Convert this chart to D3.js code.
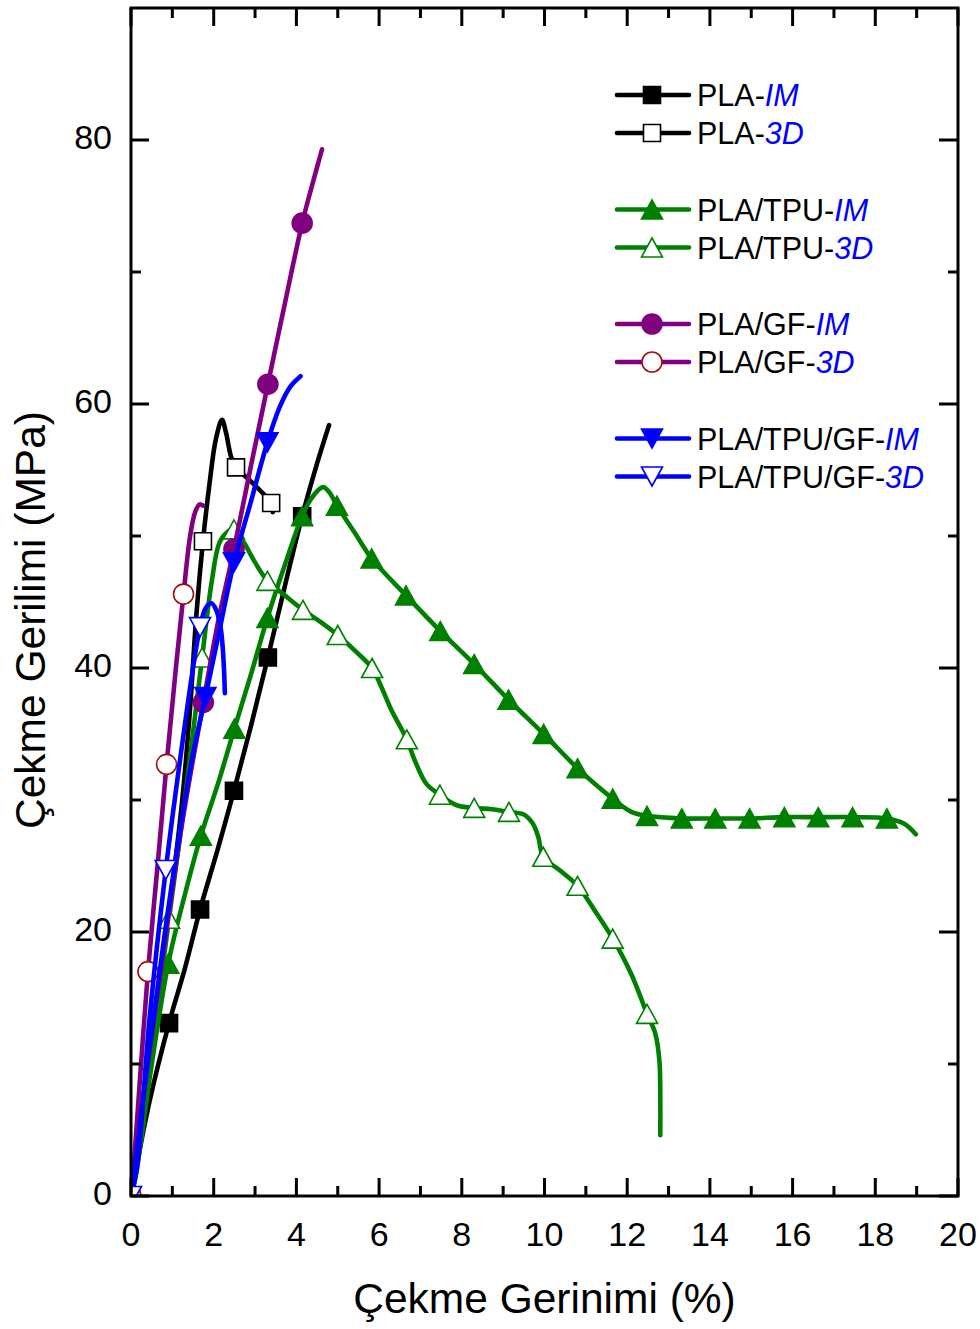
<!DOCTYPE html>
<html><head><meta charset="utf-8">
<script src="https://cdn.jsdelivr.net/npm/d3@7"></script>
<style>body{margin:0;background:#fff}svg text{font-family:"Liberation Sans",Arial,sans-serif}</style>
</head><body><svg id="c" width="980" height="1329"></svg>
<script>
// ---------- DATA ----------
const xTickValues = [0,2,4,6,8,10,12,14,16,18,20];
const yTickValues = [0,20,40,60,80];
const xTitle = "Çekme Gerinimi (%)";
const yTitle = "Çekme Gerilimi (MPa)";

const legendBase   = ["PLA-","PLA-","PLA/TPU-","PLA/TPU-","PLA/GF-","PLA/GF-","PLA/TPU/GF-","PLA/TPU/GF-"];
const legendSuffix = ["IM","3D","IM","3D","IM","3D","IM","3D"];

const plaIM = [[0,0],[0.45,7.2],[0.92,13.1],[1.3,17.2],[1.67,21.7],[2.1,26.3],[2.49,30.7],[2.9,35.6],[3.31,40.8],[3.72,46.2],[4.14,51.5],[4.5,55.5],[4.79,58.4]];
const plaIMMarks = [[0.92,13.1],[1.67,21.7],[2.49,30.7],[3.31,40.8],[4.14,51.5]];

const pla3D = [[0,0],[0.2,4.5],[0.45,10.5],[0.76,17.7],[1.0,23.5],[1.24,30],[1.43,37],[1.58,44],[1.74,49.6],[1.9,54],[2.05,57.3],[2.2,58.8],[2.3,57.8],[2.42,56],[2.54,55.2],[2.88,54.2],[3.2,53.2],[3.39,52.5],[3.43,51.8]];
const pla3DMarks = [[0,0],[1.74,49.6],[2.54,55.2],[3.39,52.5]];

const tpuIM = [[0,0],[0.22,3.7],[0.45,8.9],[0.9,17.6],[1.3,22.8],[1.69,27.3],[2.1,31.2],[2.5,35.4],[2.9,39.5],[3.3,43.8],[3.72,47.8],[4.14,51.5],[4.35,52.8],[4.64,53.7],[4.8,53.3],[4.98,52.3],[5.4,50.3],[5.82,48.3],[6.65,45.5],[7.48,42.8],[8.3,40.3],[9.13,37.6],[9.98,35],[10.8,32.4],[11.3,31],[11.65,30.1],[12.1,29.1],[12.48,28.8],[13.32,28.6],[14.13,28.6],[14.96,28.6],[15.8,28.7],[16.62,28.7],[17.45,28.7],[18.28,28.6],[18.7,28.2],[18.98,27.4]];
const tpuIMMarks = [[0.9,17.6],[1.69,27.3],[2.5,35.4],[3.3,43.8],[4.14,51.5],[4.98,52.3],[5.82,48.3],[6.65,45.5],[7.48,42.8],[8.3,40.3],[9.13,37.6],[9.98,35],[10.8,32.4],[11.65,30.1],[12.48,28.8],[13.32,28.6],[14.13,28.6],[14.96,28.6],[15.8,28.7],[16.62,28.7],[17.45,28.7],[18.28,28.6]];

const tpu3D = [[0,0],[0.14,2],[0.5,11],[0.92,21],[1.3,30],[1.72,40.8],[1.95,46.5],[2.14,49.5],[2.33,50.3],[2.49,50.5],[2.73,49.5],[3.0,48],[3.3,46.6],[3.72,45.5],[4.16,44.4],[4.58,43.5],[5.0,42.5],[5.42,41.3],[5.83,40.0],[6.05,38.6],[6.3,36.8],[6.67,34.6],[6.85,33.1],[7.15,31.2],[7.47,30.4],[7.88,29.6],[8.3,29.4],[8.72,29.3],[9.14,29.1],[9.5,28.9],[9.72,28.2],[9.85,27.2],[9.97,25.7],[10.4,24.6],[10.8,23.5],[11.22,21.6],[11.65,19.5],[12.1,16.8],[12.48,13.8],[12.68,12.3],[12.78,10.2],[12.8,7.5],[12.8,4.6]];
const tpu3DMarks = [[0.92,21],[1.72,40.8],[2.49,50.5],[3.3,46.6],[4.16,44.4],[5.0,42.5],[5.83,40.0],[6.67,34.6],[7.47,30.4],[8.3,29.4],[9.14,29.1],[9.97,25.7],[10.8,23.5],[11.65,19.5],[12.48,13.8]];

const gfIM = [[0,0],[0.4,10],[0.83,19.5],[1.25,28.5],[1.75,37.4],[2.1,43.4],[2.49,49],[2.9,55.3],[3.31,61.5],[3.72,67.6],[4.14,73.7],[4.4,76.8],[4.62,79.3]];
const gfIMMarks = [[1.75,37.4],[2.49,49],[3.31,61.5],[4.14,73.7]];

const gf3D = [[0,0],[0.1,3.7],[0.25,10.3],[0.41,17],[0.65,25.3],[0.86,32.7],[1.07,39.5],[1.27,45.6],[1.43,50],[1.55,51.8],[1.66,52.4],[1.74,52.3]];
const gf3DMarks = [[0,0],[0.41,17],[0.86,32.7],[1.27,45.6]];

const tgIM = [[0,0],[0.4,10],[0.8,19.5],[1.2,28],[1.5,33.5],[1.8,37.8],[2.15,43],[2.49,48],[2.9,52.6],[3.3,57.1],[3.6,59.8],[3.85,61.3],[4.1,62.1]];
const tgIMMarks = [[1.8,37.8],[2.49,48],[3.3,57.1]];

const tg3D = [[0,0],[0.14,2],[0.45,13.5],[0.84,24.7],[1.25,34.5],[1.5,40],[1.67,43.1],[1.8,44.5],[1.94,44.9],[2.06,44.4],[2.17,43],[2.23,41],[2.27,38.1]];
const tg3DMarks = [[0,0],[0.84,24.7],[1.67,43.1]];

// ---------- STYLE ----------
const curves = [plaIM, pla3D, tpuIM, tpu3D, gfIM, gf3D, tgIM, tg3D];
const marks  = [plaIMMarks, pla3DMarks, tpuIMMarks, tpu3DMarks, gfIMMarks, gf3DMarks, tgIMMarks, tg3DMarks];
const style = [
  {c:"#000000", shape:"square", fill:"#000000", stroke:"#000000"},
  {c:"#000000", shape:"square", fill:"#ffffff", stroke:"#000000"},
  {c:"#008000", shape:"up",     fill:"#008000", stroke:"#008000"},
  {c:"#008000", shape:"up",     fill:"#ffffff", stroke:"#008000"},
  {c:"#800080", shape:"circle", fill:"#800080", stroke:"#800080"},
  {c:"#800080", shape:"circle", fill:"#ffffff", stroke:"#a01010"},
  {c:"#0000ff", shape:"down",   fill:"#0000ff", stroke:"#0000ff"},
  {c:"#0000ff", shape:"down",   fill:"#ffffff", stroke:"#0000ff"}
];

const M = {left:131, right:958, top:8, bottom:1196};
const svg = d3.select("#c");
svg.append("rect").attr("width",980).attr("height",1329).attr("fill","#fff");

const x = d3.scaleLinear().domain([0,20]).range([M.left, M.right]);
const y = d3.scaleLinear().domain([0,90]).range([M.bottom, M.top]);

function markerPath(shape){
  const s = 8.5, w = 10.5, h = 9.5, r = 10;
  if(shape==="square") return `M${-s},${-s}H${s}V${s}H${-s}Z`;
  if(shape==="up") return `M0,${-h}L${w},${h}L${-w},${h}Z`;
  if(shape==="down") return `M0,${h}L${w},${-h}L${-w},${-h}Z`;
  return `M${r},0A${r},${r} 0 1,1 ${-r},0A${r},${r} 0 1,1 ${r},0Z`;
}

svg.append("clipPath").attr("id","pa").append("rect")
  .attr("x",M.left).attr("y",M.top).attr("width",M.right-M.left).attr("height",M.bottom-M.top);

const line = d3.line().x(d=>x(d[0])).y(d=>y(d[1])).curve(d3.curveCatmullRom.alpha(0.5));
const plot = svg.append("g").attr("clip-path","url(#pa)");

curves.forEach((data,i)=>{
  const st = style[i];
  plot.append("path").datum(data).attr("d",line)
    .attr("fill","none").attr("stroke",st.c).attr("stroke-width",4.6)
    .attr("stroke-linejoin","round").attr("stroke-linecap","round");
  plot.selectAll(null).data(marks[i]).enter().append("path")
    .attr("d",markerPath(st.shape))
    .attr("transform",d=>`translate(${x(d[0])},${y(d[1])})`)
    .attr("fill",st.fill).attr("stroke",st.stroke).attr("stroke-width",1.6);
});

// ---------- AXES ----------
const axG = svg.append("g");
const xMinor = d3.range(1,20,2);
const yMinor = d3.range(10,90,20);
function tick(x1,y1,x2,y2){ axG.append("line").attr("x1",x1).attr("y1",y1).attr("x2",x2).attr("y2",y2).attr("stroke","#000").attr("stroke-width",3); }
xTickValues.forEach(v=>{ tick(x(v),M.bottom,x(v),M.bottom-18); tick(x(v),M.top,x(v),M.top+18); });
xMinor.forEach(v=>{ tick(x(v),M.bottom,x(v),M.bottom-10); tick(x(v),M.top,x(v),M.top+10); });
yTickValues.forEach(v=>{ tick(M.left,y(v),M.left+18,y(v)); tick(M.right,y(v),M.right-19,y(v)); });
yMinor.forEach(v=>{ tick(M.left,y(v),M.left+10,y(v)); tick(M.right,y(v),M.right-10,y(v)); });
axG.append("rect").attr("x",M.left).attr("y",M.top).attr("width",M.right-M.left).attr("height",M.bottom-M.top)
  .attr("fill","none").attr("stroke","#000").attr("stroke-width",3);

axG.selectAll(null).data(xTickValues).enter().append("text")
  .attr("x",d=>x(d)).attr("y",1246).attr("text-anchor","middle")
  .attr("font-size",34).text(d=>d);
axG.selectAll(null).data(yTickValues).enter().append("text")
  .attr("x",112).attr("y",d=>y(d)+9).attr("text-anchor","end")
  .attr("font-size",34).text(d=>d);

svg.append("text").attr("x",(M.left+M.right)/2).attr("y",1313).attr("text-anchor","middle")
  .attr("font-size",42.5).text(xTitle);
svg.append("text").attr("transform","translate(45,620) rotate(-90)").attr("text-anchor","middle")
  .attr("font-size",42.5).text(yTitle);

// ---------- LEGEND ----------
const leg = svg.append("g");
legendBase.forEach((b,i)=>{
  const g = Math.floor(i/2), k = i%2;
  const ly = 95 + g*114.5 + k*38;
  const st = style[i];
  leg.append("line").attr("x1",617).attr("x2",689).attr("y1",ly).attr("y2",ly)
    .attr("stroke",st.c).attr("stroke-width",4.6).attr("stroke-linecap","round");
  leg.append("path").attr("d",markerPath(st.shape)).attr("transform",`translate(652,${ly})`)
    .attr("fill",st.fill).attr("stroke",st.stroke).attr("stroke-width",1.6);
  const t = leg.append("text").attr("x",697).attr("y",ly+11).attr("font-size",30.5);
  t.append("tspan").attr("fill","#000").text(b);
  t.append("tspan").attr("fill","#0000ff").attr("font-style","italic").text(legendSuffix[i]);
});
</script></body></html>
